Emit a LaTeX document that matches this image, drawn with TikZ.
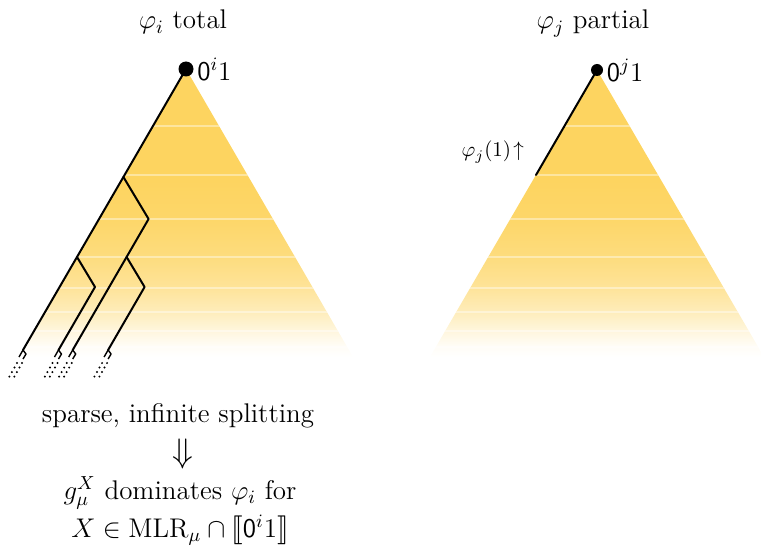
\RequirePackage{fix-cm}
\documentclass[tikz,border=0pt]{standalone}
\usepackage{amssymb}
\usepackage{stmaryrd}
\usetikzlibrary{calc}
\definecolor{yl}{RGB}{253,212,96}
\colorlet{ya}{yl!6!white}
\colorlet{yb}{yl!22!white}
\colorlet{yc}{yl!45!white}
\colorlet{yd}{yl!66!white}
\colorlet{ye}{yl!82!white}
\colorlet{yf}{yl!94!white}
\pgfdeclareverticalshading{fadeyl}{100bp}{color(0bp)=(white); color(25bp)=(white); color(27bp)=(ya); color(29.7bp)=(yb); color(33.2bp)=(yc); color(37.5bp)=(yd); color(42.7bp)=(ye); color(48.8bp)=(yf); color(55.7bp)=(yl); color(100bp)=(yl)}
\begin{document}
\begin{tikzpicture}[x=0.5pt,y=-0.5pt,
  every node/.style={font=\fontsize{13.5}{16}\selectfont},
  tree/.style={line width=1pt, line join=round, line cap=round},
  hook/.style={line width=0.7pt, line join=round},
  dotline/.style={line width=1.1pt, line cap=round, dash pattern=on 0pt off 2.6pt},
  stripe/.style={white, opacity=0.4, line width=0.8pt},
  apexdot/.style={circle, fill=black, inner sep=0pt},
  bottomtext/.style={anchor=base, inner sep=0.5pt}]
\useasboundingbox (0,0) rectangle (761,551);

% left triangle
\coordinate (Ai) at (186,69);
\coordinate (Li) at (19,357);
\coordinate (Ri) at (353,357);
\shade[shading=fadeyl] (Ai) -- (Li) -- (Ri) -- cycle;
\begin{scope}
  \clip (Ai) -- (Li) -- (Ri) -- cycle;
  \foreach \yy in {126,175,219,257,288,312,331,347}
    \draw[stripe] (0,\yy) -- (761,\yy);
\end{scope}

% right triangle
\coordinate (Aj) at (597,70);
\coordinate (Lj) at (430,357);
\coordinate (Rj) at (764,357);
\shade[shading=fadeyl] (Aj) -- (Lj) -- (Rj) -- cycle;
\begin{scope}
  \clip (Aj) -- (Lj) -- (Rj) -- cycle;
  \foreach \yy in {126,175,219,257,288,312,331,347}
    \draw[stripe] (380,\yy) -- (800,\yy);
\end{scope}

% splitting tree
\coordinate (b1) at (123.4,177);
\coordinate (c1) at (148.6,219);
\coordinate (b2) at (126.6,257);
\coordinate (b3) at (77,257);
\coordinate (c3) at (95,287);
\coordinate (c2) at (144.6,287);
\coordinate (e1) at (23,350);
\coordinate (e2) at (58.5,350);
\coordinate (e3) at (72.7,350);
\coordinate (e4) at (108.1,350);
\draw[tree] (Ai) -- (b1) -- (b3) -- (e1);
\draw[tree] (b1) -- (c1) -- (b2) -- (e3);
\draw[tree] (b3) -- (c3) -- (e2);
\draw[tree] (b2) -- (c2) -- (e4);
\foreach \e in {e1,e2,e3,e4} {
  \draw[hook] (\e) -- ++(-4,7);
  \draw[hook] (\e) -- ++(3,4) -- ++(-3,5);
  \draw[dotline] ($(\e)+(-6,13)$) -- ++(-9,16);
  \draw[dotline] ($(\e)+(-1,13)$) -- ++(-9,16);
}

% right partial path
\coordinate (pj) at (536,175);
\draw[tree] (Aj) -- (pj);
\node[font=\fontsize{10.5}{12}\selectfont, anchor=east] (lab) at (531,152) {$\varphi_j(1)\!\uparrow$};

% apex dots and labels
\node[apexdot, minimum size=7.5pt] (ai) at (Ai) {};
\node[apexdot, minimum size=6pt] (aj) at (Aj) {};
\node[anchor=west, inner sep=1.5pt] (li) at (ai.east) {$\mathsf{0}^i1$};
\node[anchor=west, inner sep=1.5pt] (lj) at (aj.east) {$\mathsf{0}^j1$};

% titles
\node[anchor=base] (ti) at (183,29) {$\varphi_i$ total};
\node[anchor=base] (tj) at (593,29) {$\varphi_j$ partial};

% bottom text
\node[bottomtext] (t1) at (178,422) {sparse, infinite splitting};
\node[font=\fontsize{17}{19}\selectfont, inner sep=0.5pt] (t2) at (183,454) {$\Downarrow$};
\node[bottomtext] (t3) at (180,499) {$g^X_\mu$ dominates $\varphi_i$ for};
\node[bottomtext] (t4) at (180,537) {$X\in\mathrm{MLR}_\mu\cap\llbracket\mathsf{0}^i1\rrbracket$};
\end{tikzpicture}
\end{document}
